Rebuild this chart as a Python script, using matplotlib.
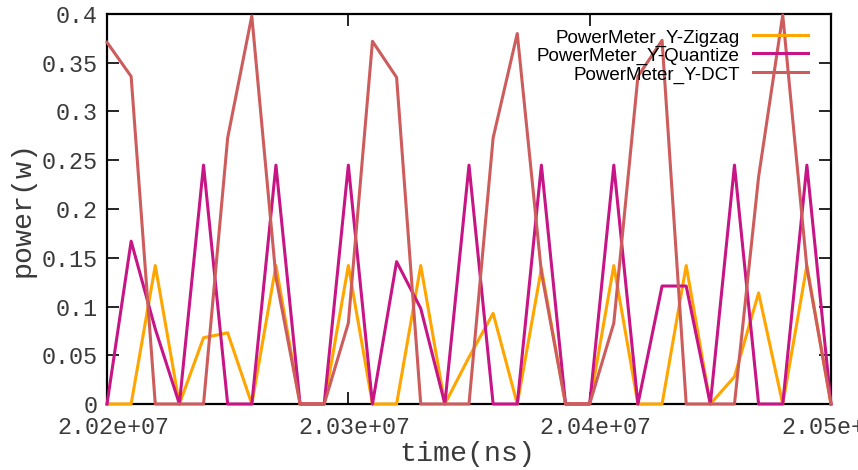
import numpy as np
import matplotlib
matplotlib.use('Agg')
import matplotlib.pyplot as plt
from matplotlib.ticker import FuncFormatter, MultipleLocator
import matplotlib.transforms as mtransforms

# time axis: samples every 1e4 ns
time_ns = np.arange(20200000, 20500001, 10000)

zigzag = [0, 0, 0.142, 0, 0.068, 0.073, 0, 0.142, 0, 0, 0.142, 0, 0, 0.142, 0, 0.048,
          0.093, 0, 0.139, 0, 0, 0.142, 0, 0, 0.142, 0, 0.028, 0.114, 0, 0.142, 0]
quantize = [0, 0.167, 0.077, 0, 0.245, 0, 0, 0.245, 0, 0, 0.245, 0, 0.146, 0.098, 0, 0.245,
            0, 0, 0.245, 0, 0, 0.245, 0, 0.121, 0.121, 0, 0.245, 0, 0, 0.245, 0]
dct = [0.371, 0.336, 0, 0, 0, 0.273, 0.398, 0.13, 0, 0, 0.083, 0.372, 0.335, 0, 0, 0,
       0.273, 0.38, 0.135, 0, 0, 0.083, 0.336, 0.373, 0, 0, 0, 0.233, 0.399, 0.14, 0]

labels = ['PowerMeter_Y-Zigzag', 'PowerMeter_Y-Quantize', 'PowerMeter_Y-DCT']
colors = ['#FFA500', '#C71585', '#CD5C5C']
series = [zigzag, quantize, dct]

mono = 'Liberation Mono'
txt_col = '#3a3a3a'

fig = plt.figure(figsize=(8.58, 4.70), dpi=100)
ax = fig.add_axes([107 / 858, 66 / 470, 724 / 858, 390 / 470])

for y, c in zip(series, colors):
    ax.plot(time_ns, y, color=c, lw=2.2, clip_on=False, zorder=3)

ax.set_xlim(20200000, 20500000)
ax.set_ylim(0, 0.4)
ax.xaxis.set_major_locator(MultipleLocator(100000))
ax.yaxis.set_major_locator(MultipleLocator(0.05))
ax.xaxis.set_major_formatter(FuncFormatter(lambda v, p: '%.2e' % v))
ax.yaxis.set_major_formatter(FuncFormatter(lambda v, p: '%g' % round(v, 2)))

ax.tick_params(direction='in', length=8.6, width=1.2, top=True, right=True,
               labelsize=16.8, labelcolor=txt_col)
ax.tick_params(axis='x', pad=8.5)
ax.tick_params(axis='y', pad=7)
for lab in ax.get_xticklabels() + ax.get_yticklabels():
    lab.set_fontfamily(mono)
for lab in ax.get_xticklabels():
    lab.set_transform(lab.get_transform() +
                      mtransforms.ScaledTranslation(6 / 100, 0, fig.dpi_scale_trans))
for s in ax.spines.values():
    s.set_linewidth(1.6)

ax.set_xlabel('time(ns)', fontfamily=mono, fontsize=20.4, color=txt_col)
ax.set_ylabel('power(w)', fontfamily=mono, fontsize=20.4, color=txt_col)
ax.xaxis.set_label_coords(0.498, -0.095)
ax.yaxis.set_label_coords(-0.098, 0.5)

# legend, gnuplot style (text right-aligned, sample on the right)
line_y = [0.946, 0.899, 0.851]
text_y = [0.9265, 0.879, 0.8316]
for lab, c, ly, ty in zip(labels, colors, line_y, text_y):
    ax.plot([0.892, 0.968], [ly, ly], transform=ax.transAxes, color=c, lw=2.2, zorder=4)
    ax.text(0.874, ty, lab, transform=ax.transAxes, ha='right', va='baseline',
            fontsize=13.5, fontfamily='Liberation Sans', zorder=4)

fig.savefig('out.png', dpi=100)
